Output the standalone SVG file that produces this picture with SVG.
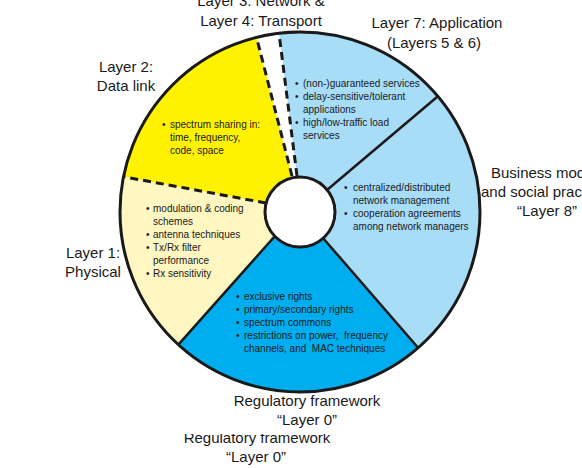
<svg xmlns="http://www.w3.org/2000/svg" width="582" height="468" viewBox="0 0 582 468">
<defs>
<style>
.lbl{font-family:"Liberation Sans",Arial,sans-serif;font-size:15px;fill:#1a1a1a;text-anchor:middle}
.bul{font-family:"Liberation Sans",Arial,sans-serif;font-size:10px;fill:#1a1a1a;white-space:pre}
.div{stroke:#1a1a1a;stroke-width:2.5;fill:none}
.dash{stroke:#1a1a1a;stroke-width:3;fill:none;stroke-dasharray:8 5}
</style>
<clipPath id="cut"><rect x="0" y="434" width="582" height="34"/></clipPath>
</defs>
<rect width="582" height="468" fill="#fff"/>

<g id="datalink">
<path d="M266 203 L123.5 176.7 A180 180 0 0 1 256.5 37.3 L292 176 L300 212 Z" fill="#FFF200"/>
<text class="bul" x="162" y="128">•</text>
<text class="bul" x="170" y="128">spectrum sharing in:</text>
<text class="bul" x="170" y="141">time, frequency,</text>
<text class="bul" x="170" y="154">code, space</text>
</g>

<g id="application">
<path d="M297 176 L279 33.2 A180 180 0 0 1 437.9 96.3 L327 190 L300 212 Z" fill="#A8DDF8"/>
<text class="bul" x="295" y="87">•</text>
<text class="bul" x="303" y="87">(non-)guaranteed services</text>
<text class="bul" x="295" y="100">•</text>
<text class="bul" x="303" y="100">delay-sensitive/tolerant</text>
<text class="bul" x="303" y="113">applications</text>
<text class="bul" x="295" y="126">•</text>
<text class="bul" x="303" y="126">high/low-traffic load</text>
<text class="bul" x="303" y="139">services</text>
</g>

<g id="business">
<path d="M327 190 L437.9 96.3 A180 180 0 0 1 418.1 347.8 L323 238 L300 212 Z" fill="#A8DDF8"/>
<text class="bul" x="344" y="191">•</text>
<text class="bul" x="353" y="191">centralized/distributed</text>
<text class="bul" x="353" y="204">network management</text>
<text class="bul" x="344" y="217">•</text>
<text class="bul" x="353" y="217">cooperation agreements</text>
<text class="bul" x="353" y="230">among network managers</text>
</g>

<g id="regulatory">
<path d="M323 238 L418.1 347.8 A180 180 0 0 1 178.4 344.7 L275 236 L300 212 Z" fill="#00AEEF"/>
<text class="bul" x="236" y="300">•</text>
<text class="bul" x="244" y="300">exclusive rights</text>
<text class="bul" x="236" y="313">•</text>
<text class="bul" x="244" y="313">primary/secondary rights</text>
<text class="bul" x="236" y="326">•</text>
<text class="bul" x="244" y="326">spectrum commons</text>
<text class="bul" x="236" y="339">•</text>
<text class="bul" x="244" y="339">restrictions on power,  frequency</text>
<text class="bul" x="244" y="352">channels, and  MAC techniques</text>
</g>

<g id="physical">
<path d="M275 236 L178.4 344.7 A180 180 0 0 1 123.5 176.7 L266 203 L300 212 Z" fill="#FFF6C2"/>
<text class="bul" x="146" y="212">•</text>
<text class="bul" x="153" y="212">modulation &amp; coding</text>
<text class="bul" x="153" y="225">schemes</text>
<text class="bul" x="146" y="238">•</text>
<text class="bul" x="153" y="238">antenna techniques</text>
<text class="bul" x="146" y="251">•</text>
<text class="bul" x="153" y="251">Tx/Rx filter</text>
<text class="bul" x="153" y="264">performance</text>
<text class="bul" x="146" y="277">•</text>
<text class="bul" x="153" y="277">Rx sensitivity</text>
</g>

<g id="connectors">
<path class="dash" d="M266 203 L123.5 176.7"/>
<path class="dash" d="M292 176 L256.5 37.3"/>
<path class="dash" d="M297 176 L279 33.2"/>
<path class="div" d="M327 190 L437.9 96.3"/>
<path class="div" d="M323 238 L418.1 347.8"/>
<path class="div" d="M275 236 L178.4 344.7"/>
</g>

<g id="rings">
<circle cx="300" cy="212" r="180" fill="none" stroke="#1a1a1a" stroke-width="3"/>
<circle cx="300" cy="212" r="35" fill="#fff" stroke="#1a1a1a" stroke-width="3"/>
</g>

<g id="labels">
<text class="lbl" x="261" y="6">Layer 3: Network &amp;</text>
<text class="lbl" x="261" y="26">Layer 4: Transport</text>
<text class="lbl" x="437" y="28">Layer 7: Application</text>
<text class="lbl" x="434" y="48">(Layers 5 &amp; 6)</text>
<text class="lbl" x="126" y="72">Layer 2:</text>
<text class="lbl" x="126" y="91">Data link</text>
<text class="lbl" x="93" y="258">Layer 1:</text>
<text class="lbl" x="93" y="277">Physical</text>
<text class="lbl" x="491" y="178" style="text-anchor:start">Business mod</text>
<text class="lbl" x="481" y="197" style="text-anchor:start">and social prac</text>
<text class="lbl" x="547" y="216">“Layer 8”</text>
<text class="lbl" x="307" y="406">Regulatory framework</text>
<text class="lbl" x="307" y="425">“Layer 0”</text>
<text class="lbl" x="257" y="443" clip-path="url(#cut)">Regulatory framework</text>
<text class="lbl" x="256" y="462">“Layer 0”</text>
</g>
</svg>
